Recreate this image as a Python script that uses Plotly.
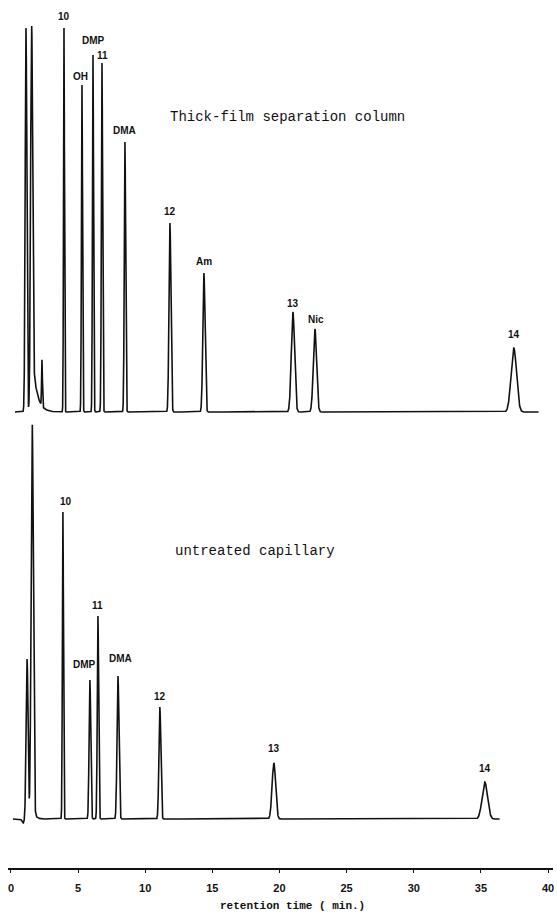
import numpy as np
import plotly.graph_objects as go

# ---- Peak tables (retention time in min, peak height in detector units) ----
# Thick-film separation column
thick_times = [1.12, 1.53, 2.31, 3.95, 5.29, 6.11, 6.78, 8.49, 11.84, 14.37, 21.00, 22.64, 37.45]
thick_heights = [384, 368, 46, 384, 327, 357, 349, 270, 189, 139, 100, 83, 64]
thick_sigmas = [0.06, 0.07, 0.03, 0.035, 0.04, 0.04, 0.045, 0.05, 0.07, 0.08, 0.12, 0.12, 0.20]
thick_labels = ["", "", "", "10", "OH", "DMP", "11", "DMA", "12", "Am", "13", "Nic", "14"]
thick_tail = (1.53, 70, 0.32)          # solvent tailing: start time, height, decay (min)
thick_run = (0.3, 39.3)                 # recorded time span (min)

# Untreated capillary
raw_times = [0.90, 1.20, 1.58, 3.87, 5.88, 6.48, 7.97, 11.09, 19.58, 35.29]
raw_heights = [-4, 160, 392, 307, 139, 203, 143, 112, 56, 37]
raw_sigmas = [0.08, 0.07, 0.08, 0.04, 0.06, 0.05, 0.07, 0.07, 0.13, 0.20]
raw_labels = ["", "", "", "10", "DMP", "11", "DMA", "12", "13", "14"]
raw_tail = (1.58, 20, 0.15)
raw_run = (0.15, 36.4)

# vertical offset of the upper chromatogram above the lower one
upper_offset = 407

tick_values = [0, 5, 10, 15, 20, 25, 30, 35, 40]


def chromatogram(times, heights, sigmas, tail, run):
    t = np.union1d(np.arange(run[0], run[1], 0.005), np.array(times))
    t = t[(t >= run[0]) & (t <= run[1])]
    y = np.zeros_like(t)
    for t0, h, s in zip(times, heights, sigmas):
        y += h * np.exp(-0.5 * ((t - t0) / s) ** 2)
    t0, h, tau = tail
    after = t > t0
    y[after] += h * np.exp(-(t[after] - t0) / tau) * (1 - np.exp(-(t[after] - t0) / 0.03))
    return t, y


t_up, y_up = chromatogram(thick_times, thick_heights, thick_sigmas, thick_tail, thick_run)
t_lo, y_lo = chromatogram(raw_times, raw_heights, raw_sigmas, raw_tail, raw_run)

W, H = 557, 913
ml, mr, mt, mb = 8, 4, 0, 45
plot_h = H - mt - mb
plot_w = W - ml - mr


def px_to_paper(x_px, y_px):
    return (x_px - ml) / plot_w, 1 - (y_px - mt) / plot_h


fig = go.Figure()
fig.add_trace(go.Scatter(x=t_up, y=y_up + upper_offset, mode="lines",
                         line=dict(color="#111111", width=1.6), hoverinfo="skip"))
fig.add_trace(go.Scatter(x=t_lo, y=y_lo, mode="lines",
                         line=dict(color="#111111", width=1.6), hoverinfo="skip"))

label_font = dict(family="Liberation Sans", size=10, color="#111111", weight="bold")
# label placement relative to the peak apex (xshift, yshift) in pixels
upper_shift = {"DMP": (1, 15), "11": (1, 8), "OH": (-1, 9), "13": (0, 9), "Nic": (1, 10), "14": (0, 14)}
lower_shift = {"DMP": (-5, 16), "DMA": (3, 18), "13": (0, 15), "14": (0, 14), "10": (3, 11)}

for t0, h, lab in zip(thick_times, thick_heights, thick_labels):
    if lab:
        dx, dy = upper_shift.get(lab, (0, 12))
        fig.add_annotation(x=t0, y=h + upper_offset, text=lab, showarrow=False,
                           yanchor="middle", xshift=dx, yshift=dy, font=label_font)
for t0, h, lab in zip(raw_times, raw_heights, raw_labels):
    if lab:
        dx, dy = lower_shift.get(lab, (0, 11))
        fig.add_annotation(x=t0, y=h, text=lab, showarrow=False,
                           yanchor="middle", xshift=dx, yshift=dy, font=label_font)

caption_font = dict(family="Liberation Mono", size=14, color="#111111")
cx, cy = px_to_paper(168, 117)
fig.add_annotation(x=cx, y=cy, xref="paper", yref="paper", text="Thick-film separation column",
                   showarrow=False, xanchor="left", yanchor="middle", font=caption_font)
cx, cy = px_to_paper(173, 551)
fig.add_annotation(x=cx, y=cy, xref="paper", yref="paper", text="untreated capillary",
                   showarrow=False, xanchor="left", yanchor="middle", font=caption_font)

# axis title below the tick labels
tx, ty = px_to_paper(292, 906)
fig.add_annotation(x=tx, y=ty, xref="paper", yref="paper",
                   text="retention time ( min.)", showarrow=False,
                   xanchor="center", yanchor="middle",
                   font=dict(family="Liberation Mono", size=11, color="#111111", weight="bold"))

fig.update_layout(
    width=W, height=H,
    margin=dict(l=ml, r=mr, t=mt, b=mb),
    paper_bgcolor="white", plot_bgcolor="white",
    showlegend=False,
    xaxis=dict(range=[-0.22, 40.37], tickvals=tick_values, ticktext=[str(v) for v in tick_values],
               showgrid=False, zeroline=False, showline=True, linecolor="#111111", linewidth=1.6,
               ticks="outside", ticklen=3, tickcolor="#111111", ticklabelstandoff=6,
               tickfont=dict(family="Liberation Sans", size=11, color="#111111", weight="bold")),
    yaxis=dict(range=[-49, 819], visible=False, showgrid=False, zeroline=False),
)

fig.write_html("out.html")
